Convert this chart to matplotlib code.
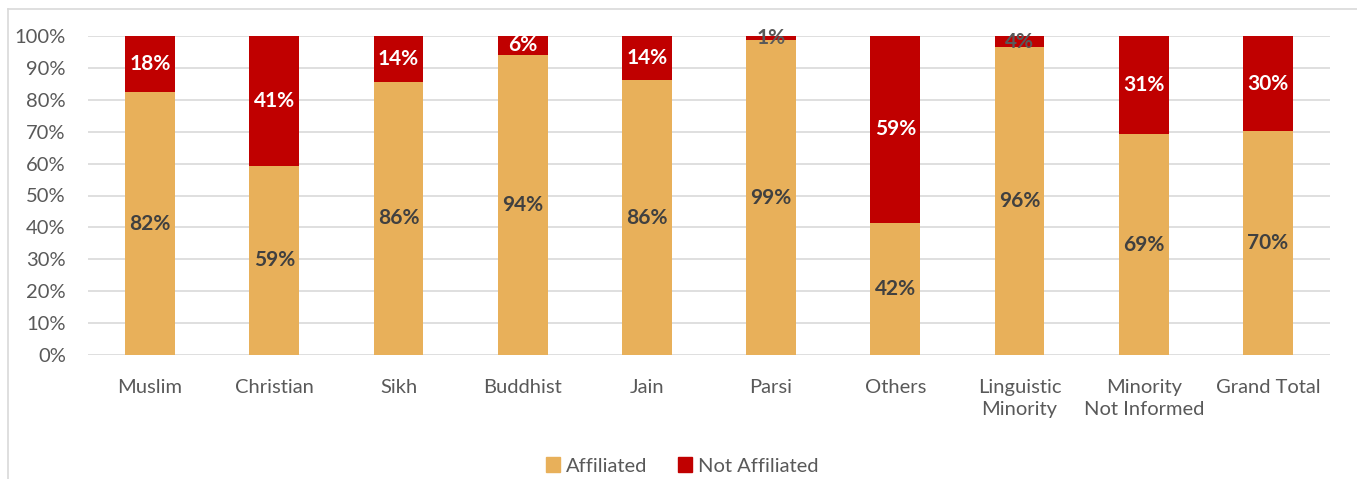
import numpy as np
import matplotlib
matplotlib.use('Agg')
import matplotlib.pyplot as plt
from matplotlib.lines import Line2D

# data (percent of each category)
categories = ["Muslim", "Christian", "Sikh", "Buddhist", "Jain", "Parsi",
              "Others", "Linguistic\nMinority", "Minority\nNot Informed", "Grand Total"]
affiliated = [82.4, 59.4, 85.6, 94.2, 86.2, 98.6, 41.5, 96.4, 69.2, 70.2]
not_affiliated = [17.6, 40.6, 14.4, 5.8, 13.8, 1.4, 58.5, 3.6, 30.8, 29.8]
yticks = [0, 10, 20, 30, 40, 50, 60, 70, 80, 90, 100]

gold = '#E8B05A'
red = '#C00000'
grey_txt = '#595959'
dark_txt = '#404040'

plt.rcParams['font.family'] = ['Lato', 'DejaVu Sans']

fig = plt.figure(figsize=(13.57, 4.79), dpi=100)
ax = fig.add_axes([88/1357, 1-355/479, (1330-88)/1357, (355-36)/479])

x = np.arange(len(categories))
aff = np.array(affiliated)
non = np.array(not_affiliated)
tot = aff + non
aff_pct = aff / tot * 100
non_pct = non / tot * 100

ax.bar(x, aff_pct, width=0.4, color=gold, label='Affiliated', zorder=3)
ax.bar(x, non_pct, width=0.4, bottom=aff_pct, color=red, label='Not Affiliated', zorder=3)

for i in range(len(x)):
    ax.text(x[i], aff_pct[i] / 2, f"{int(aff[i] + 0.5)}%", ha='center', va='center',
            fontsize=15, fontweight='bold', color=dark_txt, zorder=4)
    c = 'white' if non[i] > 5 else grey_txt
    ax.text(x[i], aff_pct[i] + non_pct[i] / 2, f"{int(non[i] + 0.5)}%", ha='center',
            va='center', fontsize=15, fontweight='bold', color=c, zorder=4)

ax.set_xlim(-0.5, len(x) - 0.5)
ax.set_ylim(0, 100)
ax.set_yticks(yticks)
ax.set_yticklabels([f"{t}%" for t in yticks])
ax.set_xticks(x)
ax.set_xticklabels(categories, linespacing=1.35)
ax.tick_params(axis='both', length=0, labelsize=14.5, colors=grey_txt)
ax.tick_params(axis='x', pad=17)
ax.tick_params(axis='y', pad=16)
ax.grid(axis='y', color='#D9D9D9', linewidth=1.2, zorder=0)
for s in ax.spines.values():
    s.set_visible(False)

handles = [plt.Rectangle((0, 0), 1, 1, color=gold), plt.Rectangle((0, 0), 1, 1, color=red)]
fig.legend(handles, ['Affiliated', 'Not Affiliated'], loc='center', ncol=2,
           bbox_to_anchor=(682/1357, 1-466/479), frameon=False, fontsize=14.5,
           handlelength=0.7, handleheight=0.7, handletextpad=0.3, columnspacing=1.5,
           labelcolor=grey_txt)

# chart frame (left and top edges visible)
fig.add_artist(Line2D([8/1357, 8/1357], [0, 1-9/479], color='#D9D9D9', lw=1.2))
fig.add_artist(Line2D([8/1357, 1], [1-9/479, 1-9/479], color='#D9D9D9', lw=1.2))

fig.savefig('out.png', dpi=100)
